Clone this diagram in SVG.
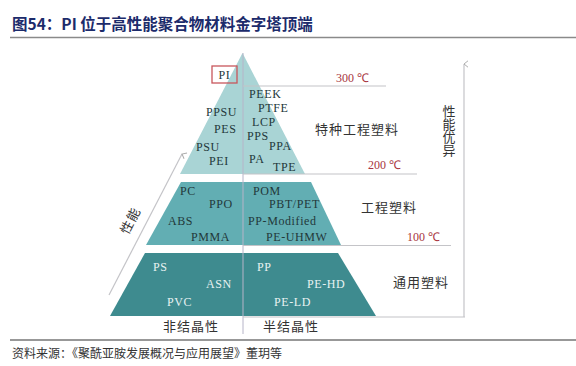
<svg xmlns="http://www.w3.org/2000/svg" width="576" height="366" viewBox="0 0 576 366">
<defs>
<style>
.lbl{font-family:"Liberation Serif","Times New Roman",serif;font-size:12px;fill:#23383a;letter-spacing:0.6px}
.lblw{font-family:"Liberation Serif","Times New Roman",serif;font-size:12px;fill:#e8f2f2;letter-spacing:0.6px}
.temp{font-family:"Liberation Serif","Times New Roman",serif;font-size:12px;fill:#a83440}
.cat{font-family:"Noto Sans CJK SC",sans-serif;font-size:13px;fill:#333;letter-spacing:1px}
.gl{stroke:#c4c4c8;stroke-width:1.2;fill:none}
</style>
<marker id="arr" viewBox="0 0 10 10" refX="5" refY="1" markerWidth="8" markerHeight="8" orient="auto-start-reverse" markerUnits="userSpaceOnUse">
<path d="M1,6 L5,1 L9,6" fill="none" stroke="#aaa" stroke-width="1.2"/>
</marker>
</defs>
<rect width="576" height="366" fill="#fff"/>
<g id="title">
<text x="12" y="30" font-family="Noto Sans CJK SC, sans-serif" font-size="15.5" font-weight="bold" fill="#1c2b6b">图54：PI 位于高性能聚合物材料金字塔顶端</text>
<line x1="10" y1="37.5" x2="576" y2="37.5" stroke="#8a8a8a" stroke-width="1.5"/>
</g>
<g id="layer-top">
<polygon points="242.5,53 180,174 305,174" fill="#a9d4d5"/>
</g>
<g id="layer-mid">
<polygon points="181,182 311,182 341,245 146,245" fill="#62aeb3"/>
</g>
<g id="layer-bottom">
<polygon points="145,253 338,253 376,316 110,316" fill="#3e8b8f"/>
</g>
<g id="connectors">
<line x1="243" y1="53" x2="243" y2="334" stroke="#b6b4c8" stroke-width="1"/>
<line class="gl" x1="243" y1="86" x2="386" y2="86"/>
<line class="gl" x1="243" y1="174" x2="417" y2="174"/>
<line class="gl" x1="243" y1="245.5" x2="451" y2="245.5"/>
<line class="gl" x1="243" y1="317" x2="465" y2="317"/>
<line class="gl" x1="464" y1="317" x2="464" y2="64" marker-end="url(#arr)"/>
<line class="gl" x1="109" y1="295" x2="182" y2="154" marker-end="url(#arr)"/>
</g>
<g id="node-pi">
<rect x="212" y="66" width="25" height="17" fill="none" stroke="#c8565c" stroke-width="1.3"/>
<text class="lbl" x="224.5" y="79" text-anchor="middle">PI</text>
</g>
<g id="top-labels">
<text class="lbl" x="249" y="98">PEEK</text>
<text class="lbl" x="258" y="112">PTFE</text>
<text class="lbl" x="206" y="116">PPSU</text>
<text class="lbl" x="214" y="133">PES</text>
<text class="lbl" x="252" y="126">LCP</text>
<text class="lbl" x="247" y="140">PPS</text>
<text class="lbl" x="196" y="151">PSU</text>
<text class="lbl" x="269" y="150">PPA</text>
<text class="lbl" x="209" y="165">PEI</text>
<text class="lbl" x="249" y="163">PA</text>
<text class="lbl" x="273" y="171">TPE</text>
</g>
<g id="mid-labels">
<text class="lbl" x="180" y="195">PC</text>
<text class="lbl" x="209" y="208">PPO</text>
<text class="lbl" x="168" y="225">ABS</text>
<text class="lbl" x="191" y="241">PMMA</text>
<text class="lbl" x="253" y="195">POM</text>
<text class="lbl" x="269" y="208">PBT/PET</text>
<text class="lbl" x="248" y="225">PP-Modified</text>
<text class="lbl" x="266" y="241">PE-UHMW</text>
</g>
<g id="bottom-labels">
<text class="lblw" x="153" y="271">PS</text>
<text class="lblw" x="206" y="288">ASN</text>
<text class="lblw" x="167" y="306">PVC</text>
<text class="lblw" x="257" y="271">PP</text>
<text class="lblw" x="307" y="288">PE-HD</text>
<text class="lblw" x="274" y="306">PE-LD</text>
</g>
<g id="temps">
<text class="temp" x="336" y="82">300 ℃</text>
<text class="temp" x="368" y="169">200 ℃</text>
<text class="temp" x="407" y="241">100 ℃</text>
</g>
<g id="categories">
<text class="cat" x="315" y="134">特种工程塑料</text>
<text class="cat" x="361" y="212">工程塑料</text>
<text class="cat" x="393" y="287">通用塑料</text>
<text class="cat" x="163" y="331">非结晶性</text>
<text class="cat" x="263" y="331">半结晶性</text>
<text class="cat" x="449" y="105" font-size="11.5" style="writing-mode:vertical-rl;letter-spacing:0">性能优异</text>
<text class="cat" x="131" y="225" text-anchor="middle" font-size="12" transform="rotate(-62.6 131 221)">性能</text>
</g>
<g id="footer">
<line x1="10" y1="340" x2="576" y2="340" stroke="#333" stroke-width="1.2"/>
<text x="12" y="358" font-family="Noto Sans CJK SC, sans-serif" font-size="12" fill="#333">资料来源：《聚酰亚胺发展概况与应用展望》董玥等</text>
</g>
</svg>
